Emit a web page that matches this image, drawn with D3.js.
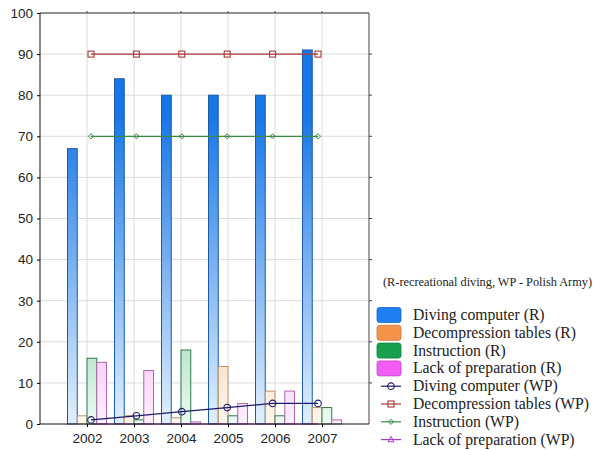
<!DOCTYPE html>
<html><head><meta charset="utf-8">
<script src="https://cdn.jsdelivr.net/npm/d3@7"></script>
<style>body{margin:0;background:#fff}svg{display:block}</style>
</head><body>
<svg id="c" width="596" height="450"></svg>
<script>
const years = ["2002","2003","2004","2005","2006","2007"];
const yTicks = [0,10,20,30,40,50,60,70,80,90,100];
// Bars (R - recreational diving)
const divingComputerR = [67, 84, 80, 80, 80, 91];
const decompressionR  = [2, 2, 1.5, 14, 8, 4];
const instructionR    = [16, 1, 18, 2, 2, 4];
const lackPrepR       = [15, 13, 0.5, 5, 8, 1];
// Lines (WP - Polish Army)
const divingComputerWP = [1, 2, 3, 4, 5, 5];
const decompressionWP  = [90, 90, 90, 90, 90, 90];
const instructionWP    = [70, 70, 70, 70, 70, 70];
const lackPrepWP       = [0, 0, 0, 0, 0, 0];

const barSeries = [
  {name:"Diving computer (R)", values:divingComputerR, top:"#1877e6", bottom:"#e2f0fc", stroke:"#1d5aa6", sw:"#1e7ff0"},
  {name:"Decompression tables (R)", values:decompressionR, top:"#f39a55", bottom:"#fff6ee", stroke:"#b8956c", sw:"#f5934a"},
  {name:"Instruction (R)", values:instructionR, top:"#19a356", bottom:"#eefbf3", stroke:"#2f7a4c", sw:"#17a04e"},
  {name:"Lack of preparation (R)", values:lackPrepR, top:"#ee5cee", bottom:"#fdf0fd", stroke:"#a86aa8", sw:"#f25cf2"}
];
const lineSeries = [
  {name:"Diving computer (WP)", values:divingComputerWP, color:"#1c1c6a", marker:"circle"},
  {name:"Decompression tables (WP)", values:decompressionWP, color:"#a83a3a", marker:"square"},
  {name:"Instruction (WP)", values:instructionWP, color:"#3a8a44", marker:"diamond"},
  {name:"Lack of preparation (WP)", values:lackPrepWP, color:"#a040c0", marker:"triangle"}
];

const svg = d3.select("#c");
const L = 40, R = 369, T = 13, B = 424;

const x = d3.scalePoint().domain(years).range([L, R]).padding(1);
const inner = d3.scaleBand().domain(barSeries.map(s=>s.name)).range([-19.5, 19.5]).padding(0);
const xl = d3.scalePoint().domain(years).range([x(years[0]) + 4, x(years[years.length-1]) - 4]);
const y = d3.scaleLinear().domain([0, 100]).range([B, T]);

// gradients
const defs = svg.append("defs");
barSeries.forEach((s,i)=>{
  const g = defs.append("linearGradient").attr("id","g"+i)
    .attr("gradientUnits","userSpaceOnUse").attr("x1",0).attr("x2",0).attr("y1",y(100)).attr("y2",y(0));
  g.append("stop").attr("offset","0").attr("stop-color",s.top);
  g.append("stop").attr("offset","0.25").attr("stop-color",s.top);
  g.append("stop").attr("offset","1").attr("stop-color",s.bottom);
});

// grid
svg.append("g").selectAll("line").data(yTicks.slice(1,-1)).join("line")
  .attr("x1",L).attr("x2",R).attr("y1",d=>y(d)).attr("y2",d=>y(d))
  .attr("stroke","#dcdcdc").attr("stroke-width",1);
svg.append("g").selectAll("line").data(years).join("line")
  .attr("x1",d=>x(d)).attr("x2",d=>x(d)).attr("y1",T).attr("y2",B)
  .attr("stroke","#dcdcdc").attr("stroke-width",1);

// bars
barSeries.forEach((s,i)=>{
  svg.append("g").selectAll("rect").data(s.values).join("rect")
    .attr("x",(d,j)=>x(years[j]) + inner(s.name))
    .attr("width",inner.bandwidth())
    .attr("y",d=>y(d)).attr("height",d=>y(0)-y(d))
    .attr("fill","url(#g"+i+")").attr("stroke",s.stroke).attr("stroke-width",1);
});

// markers
function marker(sel, type, color){
  if(type==="circle") sel.append("circle").attr("r",3.3).attr("fill","none").attr("stroke",color).attr("stroke-width",1.1);
  else if(type==="square") sel.append("rect").attr("x",-3).attr("y",-3).attr("width",6).attr("height",6).attr("fill","none").attr("stroke",color).attr("stroke-width",1.1);
  else if(type==="diamond") sel.append("path").attr("d","M0,-2.6L2.6,0L0,2.6L-2.6,0Z").attr("fill","none").attr("stroke",color).attr("stroke-width",1);
  else sel.append("path").attr("d","M0,-3.2L3,2.2L-3,2.2Z").attr("fill","none").attr("stroke",color).attr("stroke-width",1);
}

// lines
const line = d3.line().x((d,j)=>xl(years[j])).y(d=>y(d));
lineSeries.forEach(s=>{
  svg.append("path").datum(s.values).attr("d",line).attr("fill","none").attr("stroke",s.color).attr("stroke-width",1.2);
  if(s.values.some(v=>v>0)){
    svg.append("g").selectAll("g").data(s.values).join("g")
      .attr("transform",(d,j)=>`translate(${xl(years[j])},${y(d)})`)
      .each(function(){ marker(d3.select(this), s.marker, s.color); });
  }
});

// frame
svg.append("line").attr("x1",L).attr("x2",R).attr("y1",T).attr("y2",T).attr("stroke","#222");
svg.append("line").attr("x1",R).attr("x2",R).attr("y1",T).attr("y2",B).attr("stroke","#444");
// right ticks
svg.append("g").selectAll("line").data(yTicks.slice(1,-1)).join("line")
  .attr("x1",R).attr("x2",R+3).attr("y1",d=>y(d)).attr("y2",d=>y(d)).attr("stroke","#444");
// top ticks
svg.append("g").selectAll("line").data(years).join("line")
  .attr("x1",d=>x(d)).attr("x2",d=>x(d)).attr("y1",T).attr("y2",T-2).attr("stroke","#444");

// axes
const yAxis = d3.axisLeft(y).tickValues(yTicks).tickSize(3).tickPadding(4);
const gy = svg.append("g").attr("transform",`translate(${L},0)`).call(yAxis);
gy.select(".domain").attr("stroke","#111").attr("d",`M0,${B}V${T}`);
gy.selectAll("text").attr("font-family","Liberation Sans, Arial, sans-serif").attr("font-size",13.5).attr("fill","#222");

const xAxis = d3.axisBottom(x).tickSize(3).tickPadding(6);
const gx = svg.append("g").attr("transform",`translate(0,${B})`).call(xAxis);
gx.select(".domain").attr("stroke","#111").attr("d",`M${L},0H${R}`);
gx.selectAll("text").attr("font-family","Liberation Sans, Arial, sans-serif").attr("font-size",13.5).attr("fill","#222");

// legend
const lf = "Liberation Serif, Times New Roman, serif";
svg.append("text").attr("x",383).attr("y",286).attr("font-family",lf).attr("font-size",12.3).attr("fill","#222")
  .text("(R-recreational diving, WP - Polish Army)");
const rowH = 17.8, y0 = 315, tx = 413;
barSeries.forEach((s,i)=>{
  const cy = y0 + i*rowH;
  svg.append("rect").attr("x",377).attr("y",cy-7.5).attr("width",24).attr("height",15).attr("rx",2.5)
    .attr("fill",s.sw).attr("stroke",d3.color(s.sw).darker(0.6)).attr("stroke-width",0.8);
  svg.append("text").attr("x",tx).attr("y",cy+5).attr("font-family",lf).attr("font-size",15.7).attr("fill","#222").text(s.name);
});
lineSeries.forEach((s,i)=>{
  const cy = y0 + (i+4)*rowH;
  svg.append("line").attr("x1",381).attr("x2",401).attr("y1",cy).attr("y2",cy).attr("stroke",s.color).attr("stroke-width",1.2);
  marker(svg.append("g").attr("transform",`translate(391,${cy})`), s.marker, s.color);
  svg.append("text").attr("x",tx).attr("y",cy+5).attr("font-family",lf).attr("font-size",15.7).attr("fill","#222").text(s.name);
});
</script>
</body></html>
